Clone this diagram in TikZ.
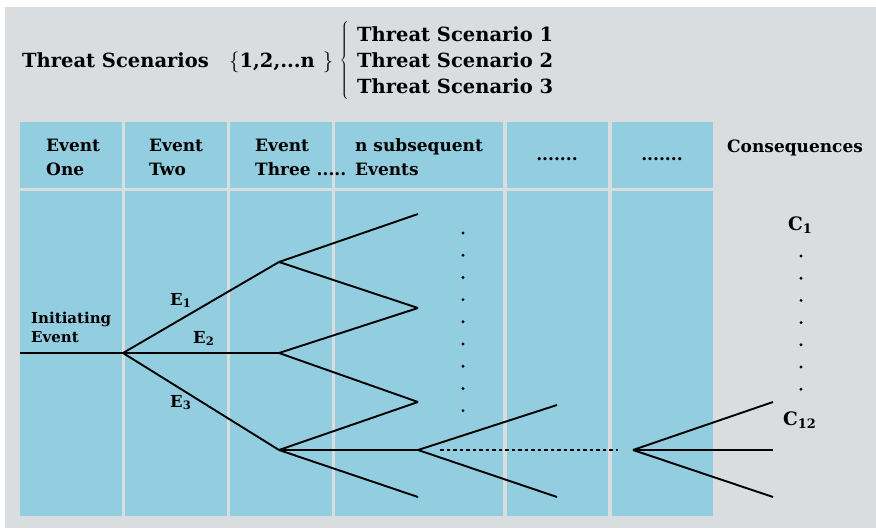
\documentclass[tikz,border=0pt]{standalone}
\usepackage{fontspec}
\setmainfont{DejaVu Serif}
\usepackage{tikz}
\usetikzlibrary{positioning, calc}
\definecolor{panelgray}{HTML}{D9DDE0}
\definecolor{colblue}{HTML}{93CDE0}
\tikzset{
        my-title/.style={
            anchor=base west, inner sep=0pt, font=\fontsize{19.5}{26}\selectfont\bfseries
        },
        my-head/.style={
            anchor=base west, align=left, inner sep=0pt, font=\fontsize{17}{24}\selectfont\bfseries
        },
        my-label/.style={
            anchor=base west, align=left, inner sep=0pt, font=\fontsize{15}{19}\selectfont\bfseries
        },
        my-branch/.style={
            line width=1.9pt
        },
}

\begin{document}
\begin{tikzpicture}[x=1pt, y=-1pt]

        % BACKGROUND AND COLUMNS
        \useasboundingbox (0,0) rectangle (876,528);
        \fill [white] (0,0) rectangle (876,528);
        \fill [panelgray] (5,7) rectangle (876,528);
        \foreach \xa/\xb in {20/122, 125/227, 230/332, 335/503, 507/608, 612/713} {
            \fill [colblue] (\xa,122) rectangle (\xb,188);
            \fill [colblue] (\xa,191) rectangle (\xb,516);
        }

        %DRAW NODES (title first, then headers, then the tree; multi-line nodes sit on their last line)
        \node [my-title]      (TITLE) at (22,67)    {Threat Scenarios};
        \node [my-title]      (SET)   at (229,67)   {$\{$1,2,...n\hspace{8pt}$\}$};
        \node [inner sep=0pt, font=\fontsize{20}{24}\selectfont] (BRACE) at (345,60) {$\left\{\vcenter{\hbox{\rule{0pt}{80pt}}}\right.$};
        \node [my-title]      (SC1)   at (357,41)   {Threat Scenario 1};
        \node [my-title]      (SC2)   at ($(SC1.base west)+(0,26)$) {Threat Scenario 2};
        \node [my-title]      (SC3)   at ($(SC2.base west)+(0,26)$) {Threat Scenario 3};

        \node [my-head]       (HEAD1) at (46,175)   {Event\\One};
        \node [my-head]       (HEAD2) at (149,175)  {Event\\Two};
        \node [my-head]       (HEAD3) at (255,175)  {Event\\Three .....};
        \node [my-head]       (HEAD4) at (355,175)  {n subsequent\\Events};
        \node [my-head, anchor=base] (HEAD5) at (557,160) {.......};
        \node [my-head, anchor=base] (HEAD6) at (662,160) {.......};
        \node [my-head]       (CONS)  at (727,152)  {Consequences};

        \node [my-label]      (INIT)  at (31,342)   {Initiating\\Event};
        \node [my-label, font=\fontsize{16.5}{19}\selectfont\bfseries] (E1) at (170,305) {E\textsubscript{1}};
        \node [my-label, font=\fontsize{16.5}{19}\selectfont\bfseries] (E2) at (193,343) {E\textsubscript{2}};
        \node [my-label, font=\fontsize{16.5}{19}\selectfont\bfseries] (E3) at (170,407) {E\textsubscript{3}};
        \node [my-head, font=\fontsize{18.5}{24}\selectfont\bfseries]  (C1)  at (788,230) {C\textsubscript{1}};
        \node [my-head, font=\fontsize{18.5}{24}\selectfont\bfseries]  (C12) at (783,425) {C\textsubscript{12}};

        % BRANCH POINTS
        \coordinate (ROOT) at (20,353);
        \coordinate (N0)   at (123,353);
        \coordinate (N1)   at (279,262);
        \coordinate (N2)   at (279,353);
        \coordinate (N3)   at (279,450);
        \coordinate (F1)   at (418,214);
        \coordinate (F2)   at (418,308);
        \coordinate (F3)   at (418,402);
        \coordinate (F4)   at (418,450);
        \coordinate (F5)   at (418,497);
        \coordinate (G1)   at (557,405);
        \coordinate (G2)   at (557,497);
        \coordinate (H0)   at (633,450);
        \coordinate (K1)   at (773,402);
        \coordinate (K2)   at (773,450);
        \coordinate (K3)   at (773,497);
        \coordinate (DOTA) at ($(F4)+(22,0)$);
        \coordinate (DOTB) at ($(H0)+(-15,0)$);

        % CONNECT INITIATING EVENT
        \draw [my-branch] (ROOT) -- (N0);
        \draw [my-branch] (N0) -- (N1);
        \draw [my-branch] (N0) -- (N2);
        \draw [my-branch] (N0) -- (N3);

        % CONNECT SUBSEQUENT EVENTS
        \draw [my-branch] (N1) -- (F1);
        \draw [my-branch] (N1) -- (F2);
        \draw [my-branch] (N2) -- (F2);
        \draw [my-branch] (N2) -- (F3);
        \draw [my-branch] (N3) -- (F3);
        \draw [my-branch] (N3) -- (F4);
        \draw [my-branch] (N3) -- (F5);
        \draw [my-branch] (F4) -- (G1);
        \draw [my-branch] (F4) -- (G2);
        \draw [my-branch, dash pattern=on 3.5pt off 3pt] (DOTA) -- (DOTB);

        % CONNECT CONSEQUENCES
        \draw [my-branch] (H0) -- (K1);
        \draw [my-branch] (H0) -- (K2);
        \draw [my-branch] (H0) -- (K3);

        % VERTICAL DOTS
        \foreach \k in {0,...,8} \fill ({463},{233+22.2*\k}) circle (1.6pt);
        \foreach \k in {0,...,6} \fill ({801},{256+22.2*\k}) circle (1.6pt);

    \end{tikzpicture}
\end{document}
